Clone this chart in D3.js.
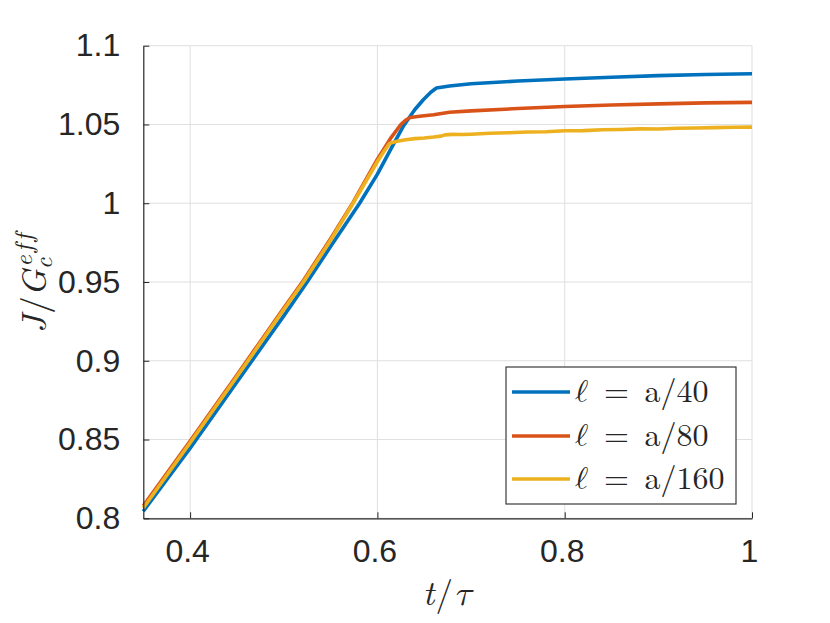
<!DOCTYPE html>
<html>
<head>
<meta charset="utf-8">
<script src="https://cdn.jsdelivr.net/npm/d3@7"></script>
<style>
  html, body { margin: 0; padding: 0; background: #fff; }
  svg { display: block; }
  .tick text { font-family: "Liberation Sans", Arial, Helvetica, sans-serif; }
</style>
</head>
<body>
<svg id="chart" width="830" height="623"></svg>
<script>
// ---- data ----
const xTicks = [0.4, 0.6, 0.8, 1];
const xTickLabels = ["0.4", "0.6", "0.8", "1"];
const yTicks = [0.8, 0.85, 0.9, 0.95, 1, 1.05, 1.1];
const yTickLabels = ["0.8", "0.85", "0.9", "0.95", "1", "1.05", "1.1"];

const seriesNames = ["ℓ = a/40", "ℓ = a/80", "ℓ = a/160"];
const seriesColors = ["#0072BD", "#D95319", "#EDB120"];

const tBlue = [0.35, 0.40, 0.45, 0.50, 0.525, 0.55, 0.581, 0.60, 0.614, 0.628, 0.640, 0.649, 0.657, 0.663, 0.670, 0.677, 0.70, 0.75, 0.80, 0.85, 0.90, 0.95, 1.00];
const jBlue = [0.8045, 0.8445, 0.8865, 0.9285, 0.950, 0.9725, 1.000, 1.0185, 1.034, 1.0492, 1.0595, 1.0657, 1.0705, 1.0731, 1.0738, 1.0744, 1.0758, 1.0776, 1.0789, 1.0800, 1.0810, 1.0817, 1.0822];

const tOrange = [0.35, 0.40, 0.45, 0.50, 0.521, 0.55, 0.574, 0.60, 0.615, 0.625, 0.630, 0.635, 0.645, 0.66, 0.677, 0.70, 0.75, 0.80, 0.85, 0.90, 0.95, 1.00];
const jOrange = [0.8080, 0.8490, 0.8910, 0.9335, 0.9510, 0.9775, 1.0005, 1.0280, 1.0420, 1.0500, 1.0527, 1.0544, 1.0552, 1.0562, 1.0578, 1.0586, 1.0601, 1.0614, 1.0624, 1.0631, 1.0637, 1.0640];

const tYellow = [0.35, 0.40, 0.45, 0.50, 0.521, 0.55, 0.574, 0.60, 0.606, 0.613, 0.62, 0.63, 0.64, 0.65, 0.66, 0.668, 0.672, 0.68, 0.69, 0.70, 0.72, 0.74, 0.76, 0.78, 0.80, 0.82, 0.84, 0.86, 0.88, 0.90, 0.92, 0.94, 0.96, 0.98, 1.00];
const jYellow = [0.8065, 0.8480, 0.8900, 0.9325, 0.950, 0.9765, 1.000, 1.0265, 1.0320, 1.0380, 1.0392, 1.0403, 1.0410, 1.0414, 1.0420, 1.0426, 1.0434, 1.0437, 1.0436, 1.0438, 1.0444, 1.0447, 1.0452, 1.0454, 1.0460, 1.0461, 1.0466, 1.0468, 1.0472, 1.0471, 1.0476, 1.0478, 1.0480, 1.0482, 1.0483];

const seriesT = [tBlue, tOrange, tYellow];
const seriesJ = [jBlue, jOrange, jYellow];

// ---- layout ----
const svg = d3.select("#chart");
const pLeft = 143.3, pRight = 752, pTop = 45.7, pBottom = 518.3;

const x = d3.scaleLinear().domain([0.35, 1]).range([pLeft, pRight]);
const y = d3.scaleLinear().domain([0.8, 1.1]).range([pBottom, pTop]);

const axisColor = "#262626";
const gridColor = "#dfdfdf";
const texFont = '"Latin Modern Roman", "Latin Modern Math", "Liberation Serif", serif';

// grid
const grid = svg.append("g");
grid.selectAll("line.gx").data(xTicks).enter().append("line")
  .attr("x1", d => x(d)).attr("x2", d => x(d))
  .attr("y1", pTop).attr("y2", pBottom)
  .attr("stroke", gridColor).attr("stroke-width", 1);
grid.selectAll("line.gy").data(yTicks).enter().append("line")
  .attr("x1", pLeft).attr("x2", pRight)
  .attr("y1", d => y(d)).attr("y2", d => y(d))
  .attr("stroke", gridColor).attr("stroke-width", 1);

// series
const line = d3.line().x(d => x(d[0])).y(d => y(d[1]));
seriesT.forEach((ts, i) => {
  const pts = ts.map((t, k) => [t, seriesJ[i][k]]);
  svg.append("path")
    .datum(pts)
    .attr("d", line)
    .attr("fill", "none")
    .attr("stroke", seriesColors[i])
    .attr("stroke-width", 3.6)
    .attr("stroke-linejoin", "round")
    .attr("stroke-linecap", "butt");
});

// axes
const xAxis = d3.axisBottom(x).tickValues(xTicks)
  .tickFormat((d, i) => xTickLabels[i])
  .tickSizeInner(-6).tickSizeOuter(0).tickPadding(21);
const gx = svg.append("g").attr("transform", `translate(0,${pBottom})`).call(xAxis);
gx.select(".domain").attr("stroke", axisColor).attr("stroke-width", 1.2);
gx.selectAll(".tick line").attr("stroke", axisColor);
gx.selectAll(".tick text").attr("fill", axisColor).attr("font-size", "32px").attr("dx", "-3");

const yAxis = d3.axisLeft(y).tickValues(yTicks)
  .tickFormat((d, i) => yTickLabels[i])
  .tickSizeInner(-6).tickSizeOuter(0).tickPadding(23);
const gy = svg.append("g").attr("transform", `translate(${pLeft},0)`).call(yAxis);
gy.select(".domain").attr("stroke", axisColor).attr("stroke-width", 1.2);
gy.selectAll(".tick line").attr("stroke", axisColor);
gy.selectAll(".tick text").attr("fill", axisColor).attr("font-size", "32px");

// x label
const xl = svg.append("text")
  .style("font-family", texFont)
  .attr("x", (pLeft + pRight) / 2).attr("y", 605)
  .attr("text-anchor", "middle")
  .attr("font-size", "35px").attr("fill", axisColor);
xl.append("tspan").attr("font-style", "italic").text("t");
xl.append("tspan").attr("dx", "1").text("/");
xl.append("tspan").attr("font-style", "italic").attr("dx", "1").text("τ");

// y label
const yl = svg.append("text")
  .style("font-family", texFont)
  .attr("transform", `translate(46,${(pTop + pBottom) / 2}) rotate(-90)`)
  .attr("text-anchor", "middle")
  .attr("font-size", "35px").attr("fill", axisColor);
yl.append("tspan").attr("font-style", "italic").text("J");
yl.append("tspan").attr("dx", "1").text("/");
yl.append("tspan").attr("font-style", "italic").text("G");
yl.append("tspan").attr("font-style", "italic").attr("font-size", "25px").attr("dy", "6").text("c");
yl.append("tspan").attr("font-style", "italic").attr("font-size", "25px").attr("dx", "-9").attr("dy", "-20")
  .attr("letter-spacing", "3").text("eff");

// legend
const lg = svg.append("g");
const lgX = 506, lgY = 367, lgW = 230, lgH = 137;
lg.append("rect").attr("x", lgX).attr("y", lgY).attr("width", lgW).attr("height", lgH)
  .attr("fill", "#fff").attr("stroke", "#3a3a3a").attr("stroke-width", 1.2);
const rowY = [392, 436, 479];
seriesNames.forEach((name, i) => {
  lg.append("line")
    .attr("x1", 512).attr("x2", 570)
    .attr("y1", rowY[i]).attr("y2", rowY[i])
    .attr("stroke", seriesColors[i]).attr("stroke-width", 3.6);
  lg.append("text")
    .style("font-family", texFont)
    .attr("x", 575).attr("y", rowY[i] + 10)
    .attr("font-size", "32px").attr("fill", axisColor)
    .attr("word-spacing", "5")
    .text(name);
});
</script>
</body>
</html>
